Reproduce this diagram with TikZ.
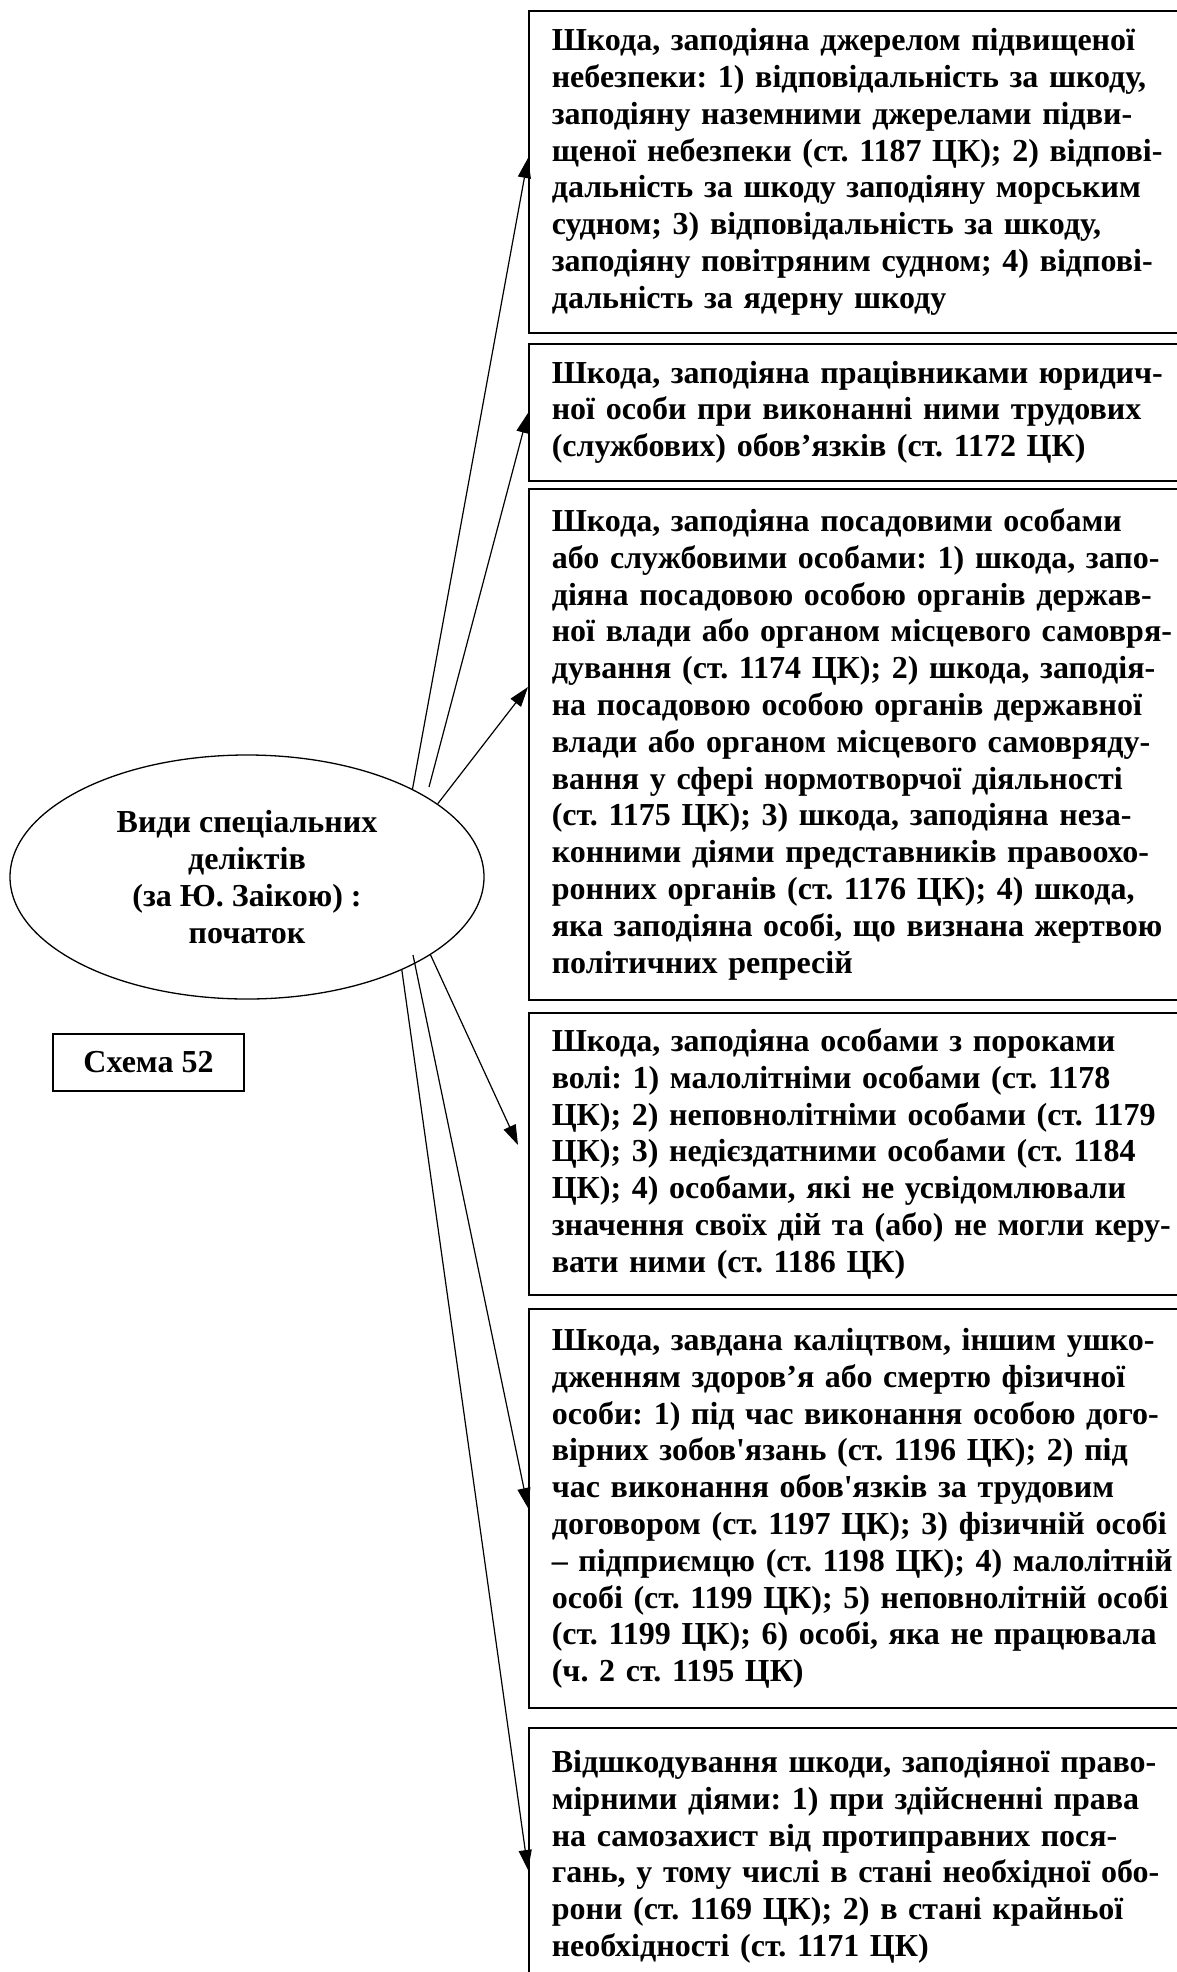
\documentclass[tikz,border=0pt]{standalone}
\usepackage{fontspec}
\setmainfont{Liberation Serif}[Ligatures=TeXOff]
\usetikzlibrary{shapes.geometric,arrows.meta,calc}
\frenchspacing
\begin{document}
\begin{tikzpicture}[x=1pt,y=-1pt,
  txt/.style={font=\fontsize{32}{36.8}\selectfont\bfseries\frenchspacing},
  box/.style={txt, draw, line width=1.6pt, rectangle, anchor=north west,
    text width=640pt, align=left, inner xsep=23pt, inner ysep=4pt},
  arr/.style={line width=1.2pt, -{Triangle[length=20pt,width=13pt]}}]
\clip (0,0) rectangle (1177,1972);

\node[box, minimum height=322pt] (b1) at (528,10) {Шкода, заподіяна джерелом підвищеної\\
небезпеки: 1) відповідальність за шкоду,\\
заподіяну наземними джерелами підви-\\
щеної небезпеки (ст. 1187 ЦК); 2) відпові-\\
дальність за шкоду заподіяну морським\\
судном; 3) відповідальність за шкоду,\\
заподіяну повітряним судном; 4) відпові-\\
дальність за ядерну шкоду};

\node[box, minimum height=137pt] (b2) at (528,343) {Шкода, заподіяна працівниками юридич-\\
ної особи при виконанні ними трудових\\
(службових) обов’язків (ст. 1172 ЦК)};

\node[box, minimum height=511pt] (b3) at (528,488) {Шкода, заподіяна посадовими особами\\
або службовими особами: 1) шкода, запо-\\
діяна посадовою особою органів держав-\\
ної влади або органом місцевого самовря-\\
дування (ст. 1174 ЦК); 2) шкода, заподія-\\
на посадовою особою органів державної\\
влади або органом місцевого самовряду-\\
вання у сфері нормотворчої діяльності\\
(ст. 1175 ЦК); 3) шкода, заподіяна неза-\\
конними діями представників правоохо-\\
ронних органів (ст. 1176 ЦК); 4) шкода,\\
яка заподіяна особі, що визнана жертвою\\
політичних репресій};

\node[box, minimum height=282pt] (b4) at (528,1012) {Шкода, заподіяна особами з пороками\\
волі: 1) малолітніми особами (ст. 1178\\
ЦК); 2) неповнолітніми особами (ст. 1179\\
ЦК); 3) недієздатними особами (ст. 1184\\
ЦК); 4) особами, які не усвідомлювали\\
значення своїх дій та (або) не могли керу-\\
вати ними (ст. 1186 ЦК)};

\node[box, minimum height=399pt] (b5) at (528,1308) {Шкода, завдана каліцтвом, іншим ушко-\\
дженням здоров’я або смертю фізичної\\
особи: 1) під час виконання особою дого-\\
вірних зобов'язань (ст. 1196 ЦК); 2) під\\
час виконання обов'язків за трудовим\\
договором (ст. 1197 ЦК); 3) фізичній особі\\
– підприємцю (ст. 1198 ЦК); 4) малолітній\\
особі (ст. 1199 ЦК); 5) неповнолітній особі\\
(ст. 1199 ЦК); 6) особі, яка не працювала\\
(ч. 2 ст. 1195 ЦК)};

\node[box, minimum height=258pt] (b6) at (528,1727) {Відшкодування шкоди, заподіяної право-\\
мірними діями: 1) при здійсненні права\\
на самозахист від протиправних пося-\\
гань, у тому числі в стані необхідної обо-\\
рони (ст. 1169 ЦК); 2) в стані крайньої\\
необхідності (ст. 1171 ЦК)};

\node[ellipse, draw, line width=1.3pt, txt, align=center, minimum width=474pt,
  minimum height=244pt, inner sep=0pt] (ell) at (247,877)
  {Види спеціальних\\деліктів\\(за Ю. Заікою) :\\початок};

\node[draw, line width=1.6pt, txt, minimum width=191pt, minimum height=57pt,
  inner sep=0pt] (sch) at (148.5,1062.5) {Схема 52};

\coordinate (t1) at (b1.north west |- 0,158);
\coordinate (t2) at (b2.north west |- 0,413);
\coordinate (t3) at (b3.north west |- 0,687);
\coordinate (t4) at ($(b4.north west |- 0,1145)+(-10,0)$);
\coordinate (t5) at (b5.north west |- 0,1508);
\coordinate (t6) at (b6.north west |- 0,1870);

\draw[arr] (ell.28.5) -- (t1);
\draw[arr] ($(ell.center)+(182,-90)$) -- (t2);
\draw[arr] (ell.21) -- (t3);
\draw[arr] (ell.-23) -- (t4);
\draw[arr] ($(ell.center)+(166,78)$) -- (t5);
\draw[arr] (ell.-31) -- (t6);
\end{tikzpicture}
\end{document}
